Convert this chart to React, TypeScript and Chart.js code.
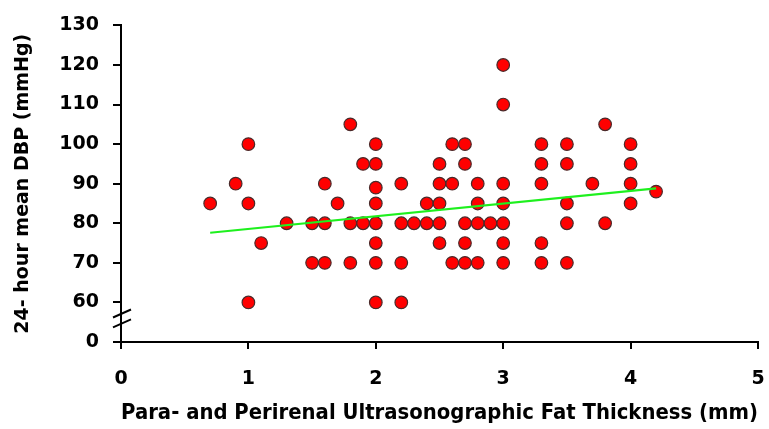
import React, { useEffect, useRef } from "react";
import { Chart, registerables } from "chart.js";

Chart.register(...registerables);

const thicknessMm: number[] = [
  0.7, 0.9, 1.0, 1.0, 1.0, 1.1, 1.3, 1.5, 1.5, 1.6, 1.6, 1.6, 1.7, 1.8, 1.8, 1.8, 1.9, 1.9,
  2.0, 2.0, 2.0, 2.0, 2.0, 2.0, 2.0, 2.0, 2.2, 2.2, 2.2, 2.2, 2.3, 2.4, 2.4,
  2.5, 2.5, 2.5, 2.5, 2.5, 2.6, 2.6, 2.6, 2.7, 2.7, 2.7, 2.7, 2.7, 2.8, 2.8, 2.8, 2.8, 2.9,
  3.0, 3.0, 3.0, 3.0, 3.0, 3.0, 3.0, 3.3, 3.3, 3.3, 3.3, 3.3, 3.5, 3.5, 3.5, 3.5, 3.5,
  3.7, 3.8, 3.8, 4.0, 4.0, 4.0, 4.0, 4.2,
];
const meanDbp: number[] = [
  85, 90, 100, 85, 60, 75, 80, 80, 70, 90, 80, 70, 85, 105, 80, 70, 95, 80,
  100, 95, 89, 85, 80, 75, 70, 60, 90, 80, 70, 60, 80, 85, 80,
  95, 90, 85, 80, 75, 100, 90, 70, 100, 95, 80, 75, 70, 90, 85, 80, 70, 80,
  120, 110, 90, 85, 80, 75, 70, 100, 95, 90, 75, 70, 100, 95, 85, 80, 70,
  90, 105, 80, 100, 95, 90, 85, 88,
];
const fitX: number[] = [0.7, 4.2];
const fitY: number[] = [77.6, 88.8];
const xTicks: number[] = [0, 1, 2, 3, 4, 5];
const yTicks: number[] = [50, 60, 70, 80, 90, 100, 110, 120, 130];
const yTickLabels: string[] = ["0", "60", "70", "80", "90", "100", "110", "120", "130"];

const FONT = "'DejaVu Sans', sans-serif";

const breakPlugin = {
  id: "axisBreak",
  afterDraw(chart: any) {
    const ys = chart.scales.y;
    const x = ys.right;
    const ctx = chart.ctx;
    ctx.save();
    ctx.strokeStyle = "#000";
    ctx.lineWidth = 2;
    [57.2, 54.7].forEach((v) => {
      const y = ys.getPixelForValue(v);
      ctx.beginPath();
      ctx.moveTo(x - 8, y + 4);
      ctx.lineTo(x + 10, y - 4);
      ctx.stroke();
    });
    ctx.restore();
  },
};

export default function App() {
  const ref = useRef<HTMLCanvasElement | null>(null);
  useEffect(() => {
    if (!ref.current) return;
    const pts = thicknessMm.map((x, i) => ({ x, y: meanDbp[i] }));
    const fit = fitX.map((x, i) => ({ x, y: fitY[i] }));
    const chart = new Chart(ref.current, {
      type: "scatter",
      data: {
        datasets: [
          {
            type: "line",
            data: fit,
            borderColor: "#1ef01e",
            borderWidth: 2.2,
            pointRadius: 0,
            showLine: true,
            fill: false,
            order: 0,
          } as any,
          {
            data: pts,
            backgroundColor: "#ff0000",
            borderColor: "#4a2a2a",
            borderWidth: 1.2,
            pointRadius: 6.3,
            order: 1,
          },
        ],
      },
      options: {
        animation: false,
        responsive: false,
        layout: { padding: { top: 24, right: 11, left: 0, bottom: 0 } },
        plugins: { legend: { display: false }, tooltip: { enabled: false } },
        scales: {
          x: {
            type: "linear",
            min: 0,
            max: 5,
            afterBuildTicks: (s: any) => {
              s.ticks = xTicks.map((v) => ({ value: v }));
            },
            afterFit: (s: any) => {
              s.height = 87;
              s.paddingRight = 0;
              s.paddingLeft = 0;
            },
            grid: { display: true, drawOnChartArea: false, drawTicks: true, tickLength: 7, color: "#000", lineWidth: 2 },
            border: { display: true, color: "#000", width: 2 },
            ticks: {
              color: "#000",
              padding: 19,
              maxRotation: 0,
              font: { family: FONT, size: 19, weight: "bold" },
            },
            title: {
              display: true,
              text: "Para- and Perirenal Ultrasonographic Fat Thickness (mm)",
              color: "#000",
              font: { family: FONT, size: 21, weight: "bold" },
              padding: { top: 4, bottom: 3 },
            },
          },
          y: {
            type: "linear",
            min: 50,
            max: 130,
            afterBuildTicks: (s: any) => {
              s.ticks = yTicks.map((v) => ({ value: v }));
            },
            afterFit: (s: any) => {
              s.width = 121;
            },
            grid: { display: true, drawOnChartArea: false, drawTicks: true, tickLength: 8, color: "#000", lineWidth: 2 },
            border: { display: true, color: "#000", width: 2 },
            ticks: {
              color: "#000",
              padding: 14,
              font: { family: FONT, size: 19, weight: "bold" },
              callback: (v: any) => {
                const i = yTicks.indexOf(Number(v));
                return i >= 0 ? yTickLabels[i] : "";
              },
            },
            title: {
              display: true,
              text: "24- hour mean DBP (mmHg)",
              color: "#000",
              font: { family: FONT, size: 19, weight: "bold" },
              padding: { top: 12, bottom: 0 },
            },
          },
        },
      },
      plugins: [breakPlugin],
    });
    return () => chart.destroy();
  }, []);
  return (
    <div style={{ position: "fixed", left: 0, top: 0, width: 769, height: 429, background: "#fff" }}>
      <canvas ref={ref} width={769} height={429} style={{ width: 769, height: 429 }} />
    </div>
  );
}
